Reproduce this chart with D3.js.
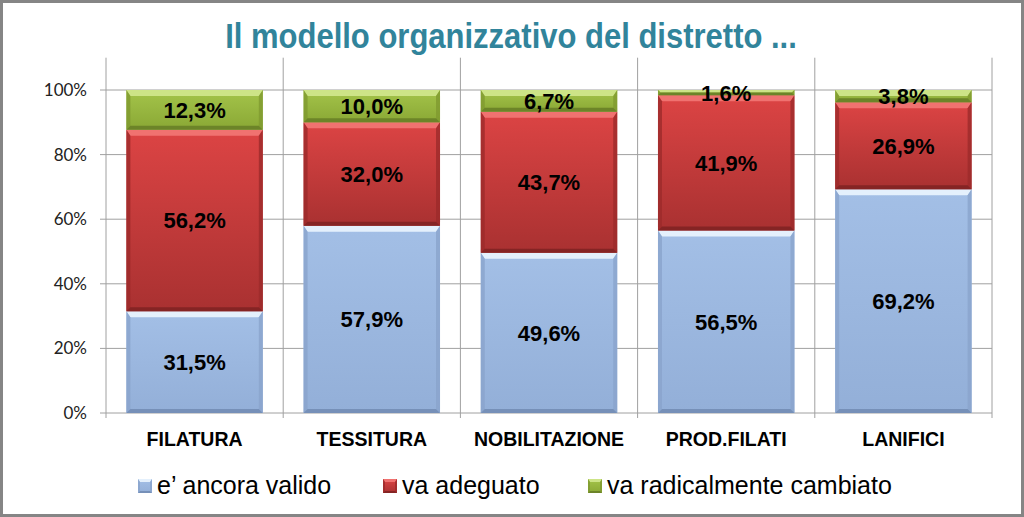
<!DOCTYPE html>
<html><head><meta charset="utf-8">
<script src="https://cdn.jsdelivr.net/npm/d3@7"></script>
<style>body{margin:0;background:#fff}svg{display:block}</style>
</head><body>
<svg id="c" width="1024" height="517"></svg>
<script>
const categories = ["FILATURA","TESSITURA","NOBILITAZIONE","PROD.FILATI","LANIFICI"];
const seriesNames = ["e\u2019 ancora valido","va adeguato","va radicalmente cambiato"];
const valido   = [31.5,57.9,49.6,56.5,69.2];
const adeguato = [56.2,32.0,43.7,41.9,26.9];
const radicale = [12.3,10.0,6.7,1.6,3.8];
const yTicks = [0,20,40,60,80,100];
const title = "Il modello organizzativo del distretto ...";

const svg = d3.select("#c");
const W = 1024, H = 517;
const pLeft = 106, pRight = 992, pTop = 57.7, pBottom = 413;

const palettes = [
  {main0:"#a3bfe6", main1:"#93afd8", top:"#e4f0fc", side:"#8aa4cc", bot:"#7690b8"},
  {main0:"#dc4444", main1:"#a93131", top:"#f07270", side:"#9c2b2b", bot:"#852424"},
  {main0:"#a4c44a", main1:"#8aa835", top:"#cde487", side:"#7f9a30", bot:"#6c8428"}
];
const defs = svg.append("defs");
palettes.forEach((p,i)=>{
  const g = defs.append("linearGradient").attr("id","g"+i).attr("x1",0).attr("y1",0).attr("x2",0).attr("y2",1);
  g.append("stop").attr("offset","0%").attr("stop-color",p.main0);
  g.append("stop").attr("offset","100%").attr("stop-color",p.main1);
});

svg.append("rect").attr("x",1.5).attr("y",1.5).attr("width",W-3).attr("height",H-3)
  .attr("fill","#fff").attr("stroke","#858585").attr("stroke-width",3);

const x = d3.scaleBand().domain(categories).range([pLeft,pRight]).paddingInner(0.23).paddingOuter(0.115);
const y = d3.scaleLinear().domain([0,110]).range([pBottom,pTop]);
const step = (pRight-pLeft)/categories.length;

// gridlines
const grid = svg.append("g");
grid.selectAll("line.h").data(yTicks).join("line")
  .attr("x1",pLeft-6).attr("x2",pRight).attr("y1",d=>y(d)).attr("y2",d=>y(d))
  .attr("stroke","#a0a0a0").attr("stroke-width",1);
grid.selectAll("line.v").data(d3.range(categories.length+1)).join("line")
  .attr("x1",d=>pLeft+d*step).attr("x2",d=>pLeft+d*step).attr("y1",pTop).attr("y2",pBottom+5)
  .attr("stroke","#a0a0a0").attr("stroke-width",1);

// y axis labels
const yAxis = d3.axisLeft(y).tickValues(yTicks).tickSize(0).tickPadding(19).tickFormat(d=>d+"%");
const ya = svg.append("g").attr("transform",`translate(${pLeft},0)`).call(yAxis);
ya.select(".domain").remove();
ya.selectAll("text").attr("font-family","Lato, 'Open Sans', sans-serif").attr("font-size",17).attr("fill","#222");

// x axis labels
const xAxis = d3.axisBottom(x).tickSize(0).tickPadding(19);
const xa = svg.append("g").attr("transform",`translate(0,${pBottom})`).call(xAxis);
xa.select(".domain").remove();
xa.selectAll("text").attr("font-family","'Liberation Sans', Arial, sans-serif").attr("font-weight","bold").attr("font-size",19.5).attr("fill","#000");

// stacked data
const rows = categories.map((c,i)=>({cat:c, s0:valido[i], s1:adeguato[i], s2:radicale[i]}));
const stack = d3.stack().keys(["s0","s1","s2"]).offset(d3.stackOffsetExpand)(rows);

function bevelBar(g, x0, y0, w, h, p, gi, bt, bs){
  g.append("rect").attr("x",x0).attr("y",y0).attr("width",w).attr("height",h).attr("fill",`url(#g${gi})`);
  const tb = Math.min(bt, h/2), sb = Math.min(bs, w/2, h/2);
  g.append("polygon").attr("points",[[x0,y0],[x0+w,y0],[x0+w-sb,y0+tb],[x0+sb,y0+tb]].join(" ")).attr("fill",p.top);
  g.append("polygon").attr("points",[[x0,y0],[x0+sb,y0+tb],[x0+sb,y0+h-sb],[x0,y0+h]].join(" ")).attr("fill",p.side).attr("opacity",0.8);
  g.append("polygon").attr("points",[[x0+w,y0],[x0+w-sb,y0+tb],[x0+w-sb,y0+h-sb],[x0+w,y0+h]].join(" ")).attr("fill",p.side).attr("opacity",0.8);
  g.append("polygon").attr("points",[[x0,y0+h],[x0+sb,y0+h-sb],[x0+w-sb,y0+h-sb],[x0+w,y0+h]].join(" ")).attr("fill",p.bot);
}

const bars = svg.append("g");
stack.forEach((layer,si)=>{
  layer.forEach(d=>{
    const y1 = y(d[1]*100), y0 = y(d[0]*100);
    bevelBar(bars, x(d.data.cat), y1, x.bandwidth(), y0-y1, palettes[si], si, 6, 4);
  });
});
const labels = svg.append("g");
stack.forEach((layer,si)=>{
  labels.selectAll(null).data(layer).join("text")
    .attr("x",d=>x(d.data.cat)+x.bandwidth()/2)
    .attr("y",d=>(y(d[1]*100)+y(d[0]*100))/2)
    .attr("dy","0.36em")
    .attr("text-anchor","middle")
    .attr("font-family","'Liberation Sans', Arial, sans-serif").attr("font-weight","bold").attr("font-size",22)
    .attr("fill","#000")
    .text(d=>d3.format(".1f")(d.data["s"+si]).replace(".",",")+"%");
});

// title (condensed to mimic a narrow face)
const tt = svg.append("text").attr("x",0).attr("y",0).attr("text-anchor","middle")
  .attr("font-family","'Liberation Sans', Arial, sans-serif").attr("font-weight","bold")
  .attr("font-size",36).attr("fill","#31849b").text(title);
const tw = tt.node().getComputedTextLength();
tt.attr("transform",`translate(511,48) scale(${572/tw},1)`);

// legend
const legX = [138, 383, 588];
const lg = svg.append("g");
seriesNames.forEach((n,i)=>{
  bevelBar(lg, legX[i], 479, 14, 14, palettes[i], i, 3, 2);
  lg.append("text").attr("x",legX[i]+19).attr("y",494)
    .attr("font-family","'Liberation Sans', Arial, sans-serif").attr("font-size",25).attr("fill","#000").text(n);
});
</script>
</body></html>
